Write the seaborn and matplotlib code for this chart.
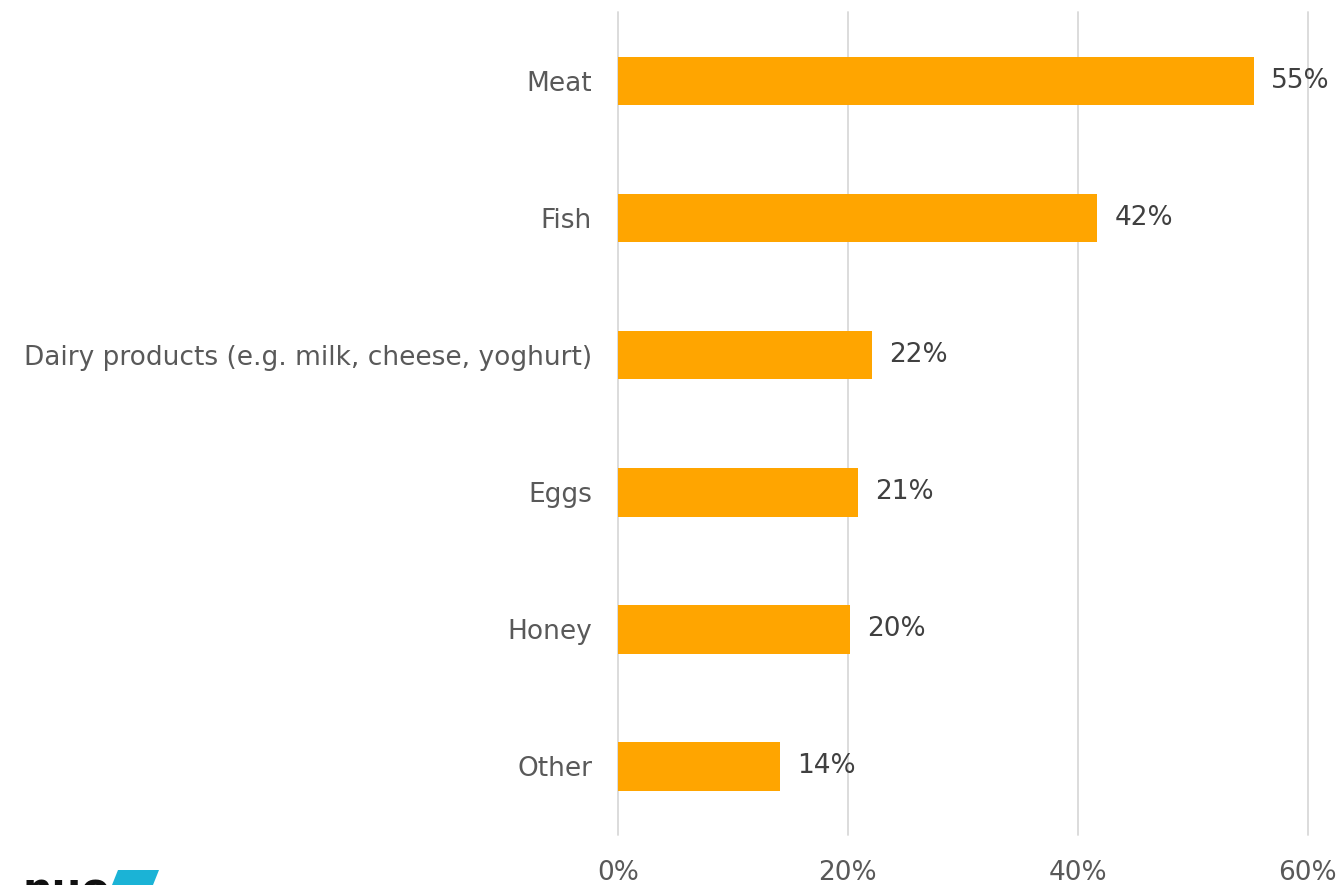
import matplotlib
matplotlib.use("Agg")
import matplotlib.pyplot as plt
import seaborn as sns
import pandas as pd

categories = ["Meat", "Fish", "Dairy products (e.g. milk, cheese, yoghurt)",
              "Eggs", "Honey", "Other"]
shares = [55.3, 41.7, 22.1, 20.9, 20.2, 14.1]
x_ticks = [0, 20, 40, 60]
x_tick_labels = ["0%", "20%", "40%", "60%"]

df = pd.DataFrame({"category": categories, "share": shares})

sns.set_theme(style="white")
plt.rcParams["font.family"] = ["DejaVu Sans"]

fig = plt.figure(figsize=(13.4, 8.85), dpi=100)
ax = fig.add_axes([0.461, 0.0565, 0.515, 0.9295])

sns.barplot(data=df, x="share", y="category", orient="h", color="#FFA500",
            saturation=1, width=0.355, linewidth=0, ax=ax, zorder=3)

ax.set_xlim(0, 60)
ax.set_ylim(5.5, -0.5)
ax.set_xticks(x_ticks)
ax.set_xticklabels(x_tick_labels)
ax.xaxis.grid(True, color="#d9d9d9", linewidth=1.3, zorder=0)
for gl in ax.get_xgridlines():
    gl.set_clip_on(False)
ax.yaxis.grid(False)
for s in ax.spines.values():
    s.set_visible(False)
ax.tick_params(axis="x", length=0, pad=18, labelsize=19, labelcolor="#595959")
ax.tick_params(axis="y", length=0, pad=18.5, labelsize=19, labelcolor="#595959")
ax.set_xlabel("")
ax.set_ylabel("")

for i, v in enumerate(shares):
    ax.annotate(f"{v:.0f}%", xy=(v, i), xytext=(17, 0), textcoords="offset pixels",
                va="center", ha="left", fontsize=19, color="#404040")

# partial logo in the bottom-left corner
fig.patches.append(plt.Polygon([[112/1340, 0], [118/1340, 15/885], [159/1340, 15/885],
                                [153/1340, 0]], closed=True, transform=fig.transFigure,
                               facecolor="#1BB3D6", edgecolor="none"))
fig.text(22/1340, -19/885, "nuo", fontsize=30, fontweight="bold", color="#111111",
         ha="left", va="baseline")

fig.savefig("out.png", dpi=100)
